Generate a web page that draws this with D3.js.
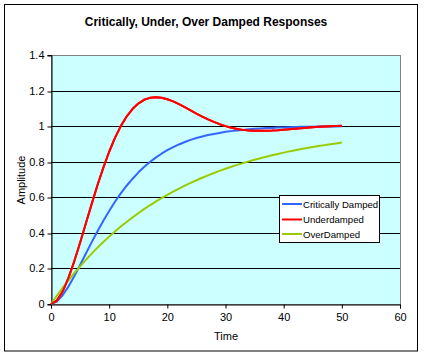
<!DOCTYPE html>
<html><head><meta charset="utf-8">
<script src="https://cdn.jsdelivr.net/npm/d3@7"></script>
<style>body{margin:0;background:#fff}svg{display:block}text{font-family:Arial,"Liberation Sans",sans-serif}</style>
</head><body>
<svg id="c" width="424" height="356"></svg>
<script>
const title = "Critically, Under, Over Damped Responses";
const xLabel = "Time";
const yLabel = "Amplitude";
const xTicks = [0, 10, 20, 30, 40, 50, 60];
const yTicks = [0, 0.2, 0.4, 0.6, 0.8, 1, 1.2, 1.4];
const seriesNames = ["Critically Damped", "Underdamped", "OverDamped"];
const seriesColors = ["#3366FF", "#FF0000", "#99CC00"];
const time = d3.range(0, 51);
const critical = [0,.014,.049,.098,.156,.219,.284,.348,.409,.468,.523,.575,.622,.665,.703,.739,.770,.798,.823,.845,.865,.882,.897,.911,.923,.933,.942,.950,.956,.962,.968,.972,.976,.979,.982,.985,.987,.989,.990,.992,.993,.994,.995,.996,.9965,.997,.9975,.998,.9983,.9986,.9988];
const under = [0,.019,.070,.147,.240,.344,.454,.563,.669,.767,.856,.934,1.0,1.054,1.096,1.127,1.148,1.159,1.163,1.160,1.151,1.139,1.124,1.107,1.089,1.071,1.054,1.038,1.024,1.011,1.0,.991,.984,.979,.976,.974,.9735,.974,.975,.977,.980,.983,.986,.988,.991,.994,.996,.998,1.0,1.001,1.0026];
const over = [0,.0465,.0908,.1331,.1734,.2118,.2485,.2835,.3168,.3486,.3788,.4077,.4353,.4615,.4866,.5105,.5332,.555,.5756,.5954,.6142,.6321,.6492,.6655,.681,.6959,.71,.7235,.7364,.7486,.7603,.7715,.7821,.7922,.8019,.8111,.8199,.8283,.8363,.8439,.8512,.8581,.8647,.871,.877,.8827,.8881,.8933,.8983,.903,.9075];
const seriesValues = [critical, under, over];

const svg = d3.select("#c");
svg.append("rect").attr("x",4.5).attr("y",4.5).attr("width",413).attr("height",346.5)
  .attr("fill","#fff").attr("stroke","#000");

const x = d3.scaleLinear().domain([0,60]).range([51,400]);
const y = d3.scaleLinear().domain([0,1.4]).range([304,55]);

svg.append("rect").attr("x",51).attr("y",55).attr("width",349).attr("height",249)
  .attr("fill","#CCFFFF").attr("stroke","#808080").attr("shape-rendering","crispEdges");

svg.append("g").selectAll("line").data(yTicks.filter(v=>v>0 && v<1.4)).join("line")
  .attr("x1",51).attr("x2",400)
  .attr("y1",d=>Math.round(y(d))+0.5).attr("y2",d=>Math.round(y(d))+0.5)
  .attr("stroke","#000");

const xa = svg.append("g").attr("transform","translate(0,304.5)")
  .call(d3.axisBottom(x).tickValues(xTicks).tickSize(4).tickPadding(5).tickFormat(d3.format("d")));
const ya = svg.append("g").attr("transform","translate(51.5,0)")
  .call(d3.axisLeft(y).tickValues(yTicks).tickSize(4).tickPadding(3).tickFormat(d=>String(+d.toFixed(1))));
[xa,ya].forEach(a=>{
  a.select(".domain").attr("stroke","#000");
  a.selectAll(".tick line").attr("stroke","#000");
  a.selectAll("text").attr("fill","#000").attr("font-size","11px").attr("font-family","Arial, Liberation Sans, sans-serif");
});
ya.selectAll(".tick line").attr("transform",d=>`translate(0,${Math.round(y(d))+0.5-y(d)})`);

const line = d3.line().x((d,i)=>x(time[i])).y(d=>y(d));
seriesValues.forEach((vals,k)=>{
  svg.append("path").datum(vals).attr("d",line).attr("fill","none")
    .attr("stroke",seriesColors[k]).attr("stroke-width",2).attr("stroke-linejoin","round");
});
// draw red on top like reference
svg.append("path").datum(under).attr("d",line).attr("fill","none")
  .attr("stroke",seriesColors[1]).attr("stroke-width",2).attr("stroke-linejoin","round");

svg.append("text").attr("x",206).attr("y",26).attr("text-anchor","middle")
  .attr("font-size","12px").attr("font-weight","bold").text(title);
svg.append("text").attr("x",226).attr("y",340).attr("text-anchor","middle")
  .attr("font-size","11px").text(xLabel);
svg.append("text").attr("transform","translate(25,180) rotate(-90)").attr("text-anchor","middle")
  .attr("font-size","11px").text(yLabel);

const lg = svg.append("g");
lg.append("rect").attr("x",279.5).attr("y",195.5).attr("width",100).attr("height",47)
  .attr("fill","#fff").attr("stroke","#000");
const ly = [204, 219.5, 234];
seriesNames.forEach((n,i)=>{
  lg.append("line").attr("x1",282).attr("x2",302).attr("y1",ly[i]).attr("y2",ly[i])
    .attr("stroke",seriesColors[i]).attr("stroke-width",2);
  lg.append("text").attr("x",303).attr("y",ly[i]+3.5).attr("font-size","9.6px").text(n);
});
</script>
</body></html>
